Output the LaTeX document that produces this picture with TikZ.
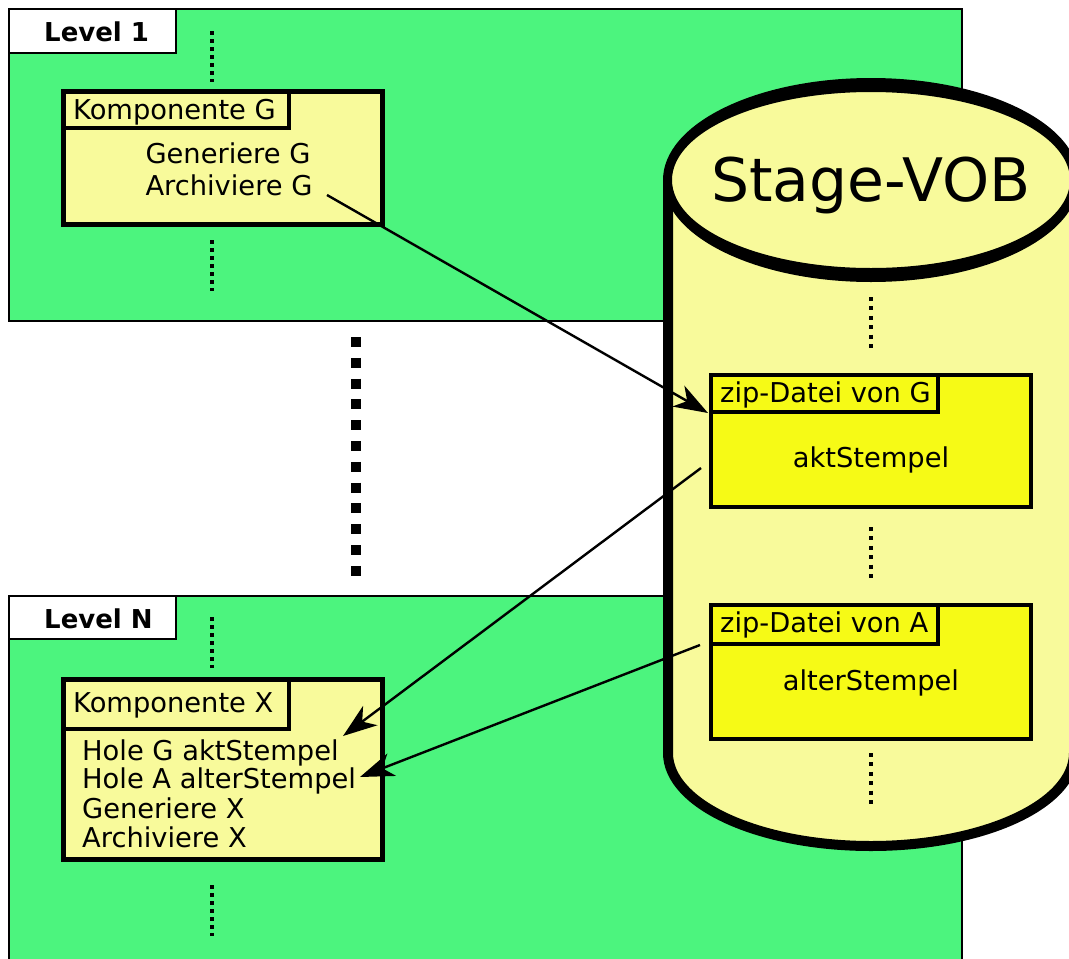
\documentclass[tikz,border=0pt]{standalone}
\usepackage{fontspec}
\setmainfont{DejaVu Sans}
\usetikzlibrary{arrows.meta}

\definecolor{levelgreen}{RGB}{76,244,126}
\definecolor{paleyellow}{RGB}{248,250,155}
\definecolor{zipyellow}{RGB}{246,250,22}

\begin{document}
\begin{tikzpicture}[x=1pt,y=-1pt,
  txt/.style={inner sep=0pt, font=\fontsize{27.3}{29}\selectfont},
  lvltxt/.style={inner sep=0pt, anchor=base west, font=\fontsize{26}{28}\selectfont\bfseries},
  levelbox/.style={line width=2pt, fill=levelgreen},
  labelbox/.style={line width=2pt, fill=white},
  compbox/.style={line width=5pt, fill=paleyellow},
  comptitle/.style={line width=4pt},
  zipbox/.style={line width=4.5pt, fill=zipyellow},
  ziptitle/.style={line width=4pt},
  smalldots/.style={line width=4pt, dash pattern=on 4pt off 4pt},
  cyldots/.style={line width=4pt, dash pattern=on 4pt off 5.4pt},
  bigdots/.style={line width=10.5pt, dash pattern=on 10pt off 10.8pt},
  conn/.style={line width=2.4pt, -{Stealth[length=34pt, width=24pt, inset=10pt]}}]
\useasboundingbox (0,0) rectangle (1069,959);

% ---- level frames ----
\draw[levelbox] (9,9) rectangle (962,321);
\draw[labelbox] (9,9) rectangle (176,53);
\node[lvltxt] (lvl1) at (44,41) {Level 1};

\draw[levelbox] (9,596) rectangle (962,990);
\draw[labelbox] (9,596) rectangle (176,639);
\node[lvltxt] (lvlN) at (44,628) {Level N};

% ---- dotted continuation marks inside the levels ----
\draw[smalldots] (212,31) -- (212,82);
\draw[smalldots] (212,240) -- (212,291);
\draw[smalldots] (212,617) -- (212,668);
\draw[smalldots] (212,885) -- (212,936);

% ---- component G ----
\draw[compbox] (63,91) rectangle (382,224);
\draw[comptitle] (63,91) rectangle (289,128);
\node[txt, anchor=base west] (kG) at (73,119) {Komponente G};
\node[txt, anchor=base] (genG) at (228,163) {Generiere G};
\node[txt, anchor=base] (arcG) at (229,195) {Archiviere G};

% ---- component X ----
\draw[compbox] (63,679) rectangle (382,859);
\draw[comptitle] (63,679) rectangle (289,729);
\node[txt, anchor=base west] (kX) at (73,712) {Komponente X};
\node[txt, anchor=base west] (holeG) at (82,760) {Hole G aktStempel};
\node[txt, anchor=base west] (holeA) at (82,788) {Hole A alterStempel};
\node[txt, anchor=base west] (genX) at (82,818) {Generiere X};
\node[txt, anchor=base west] (arcX) at (82,847) {Archiviere X};

% ---- levels in between ----
\draw[bigdots] (356,337) -- (356,577);

% ---- Stage-VOB cylinder ----
\fill[paleyellow] (668,180) -- (668,753)
  arc[start angle=180, end angle=0, x radius=203, y radius=93] -- (1074,180) -- cycle;
\draw[line width=10pt] (668,180) -- (668,753)
  arc[start angle=180, end angle=0, x radius=203, y radius=93] -- (1074,180);
\fill[paleyellow] (871,180) ellipse[x radius=203, y radius=95];
\fill[black, even odd rule] (871,180) ellipse[x radius=208, y radius=102]
  (871,180) ellipse[x radius=199, y radius=88];
\node[inner sep=0pt, anchor=base, font=\fontsize{60}{64}\selectfont] (vob) at (871,201) {Stage-VOB};

\draw[cyldots] (871,297) -- (871,349);
\draw[cyldots] (871,527) -- (871,579);
\draw[cyldots] (871,753) -- (871,805);

% ---- zip archives ----
\draw[zipbox] (711,375) rectangle (1031,507);
\draw[ziptitle] (711,375) rectangle (938,412);
\node[txt, anchor=base west] (zipG) at (720,402) {zip-Datei von G};
\node[txt, anchor=base] (akt) at (871,467) {aktStempel};

\draw[zipbox] (711,605) rectangle (1031,739);
\draw[ziptitle] (711,605) rectangle (938,644);
\node[txt, anchor=base west] (zipA) at (720,632) {zip-Datei von A};
\node[txt, anchor=base] (alt) at (871,690) {alterStempel};

% ---- transfers ----
\coordinate (outG) at (327,195);
\coordinate (inZipG) at (708,413);
\coordinate (outZipG) at (701,468);
\coordinate (inHoleG) at (343,736);
\coordinate (outZipA) at (700,645);
\coordinate (inHoleA) at (360,777);
\draw[conn] (outG) -- (inZipG);
\draw[conn] (outZipG) -- (inHoleG);
\draw[conn] (outZipA) -- (inHoleA);
\end{tikzpicture}
\end{document}
